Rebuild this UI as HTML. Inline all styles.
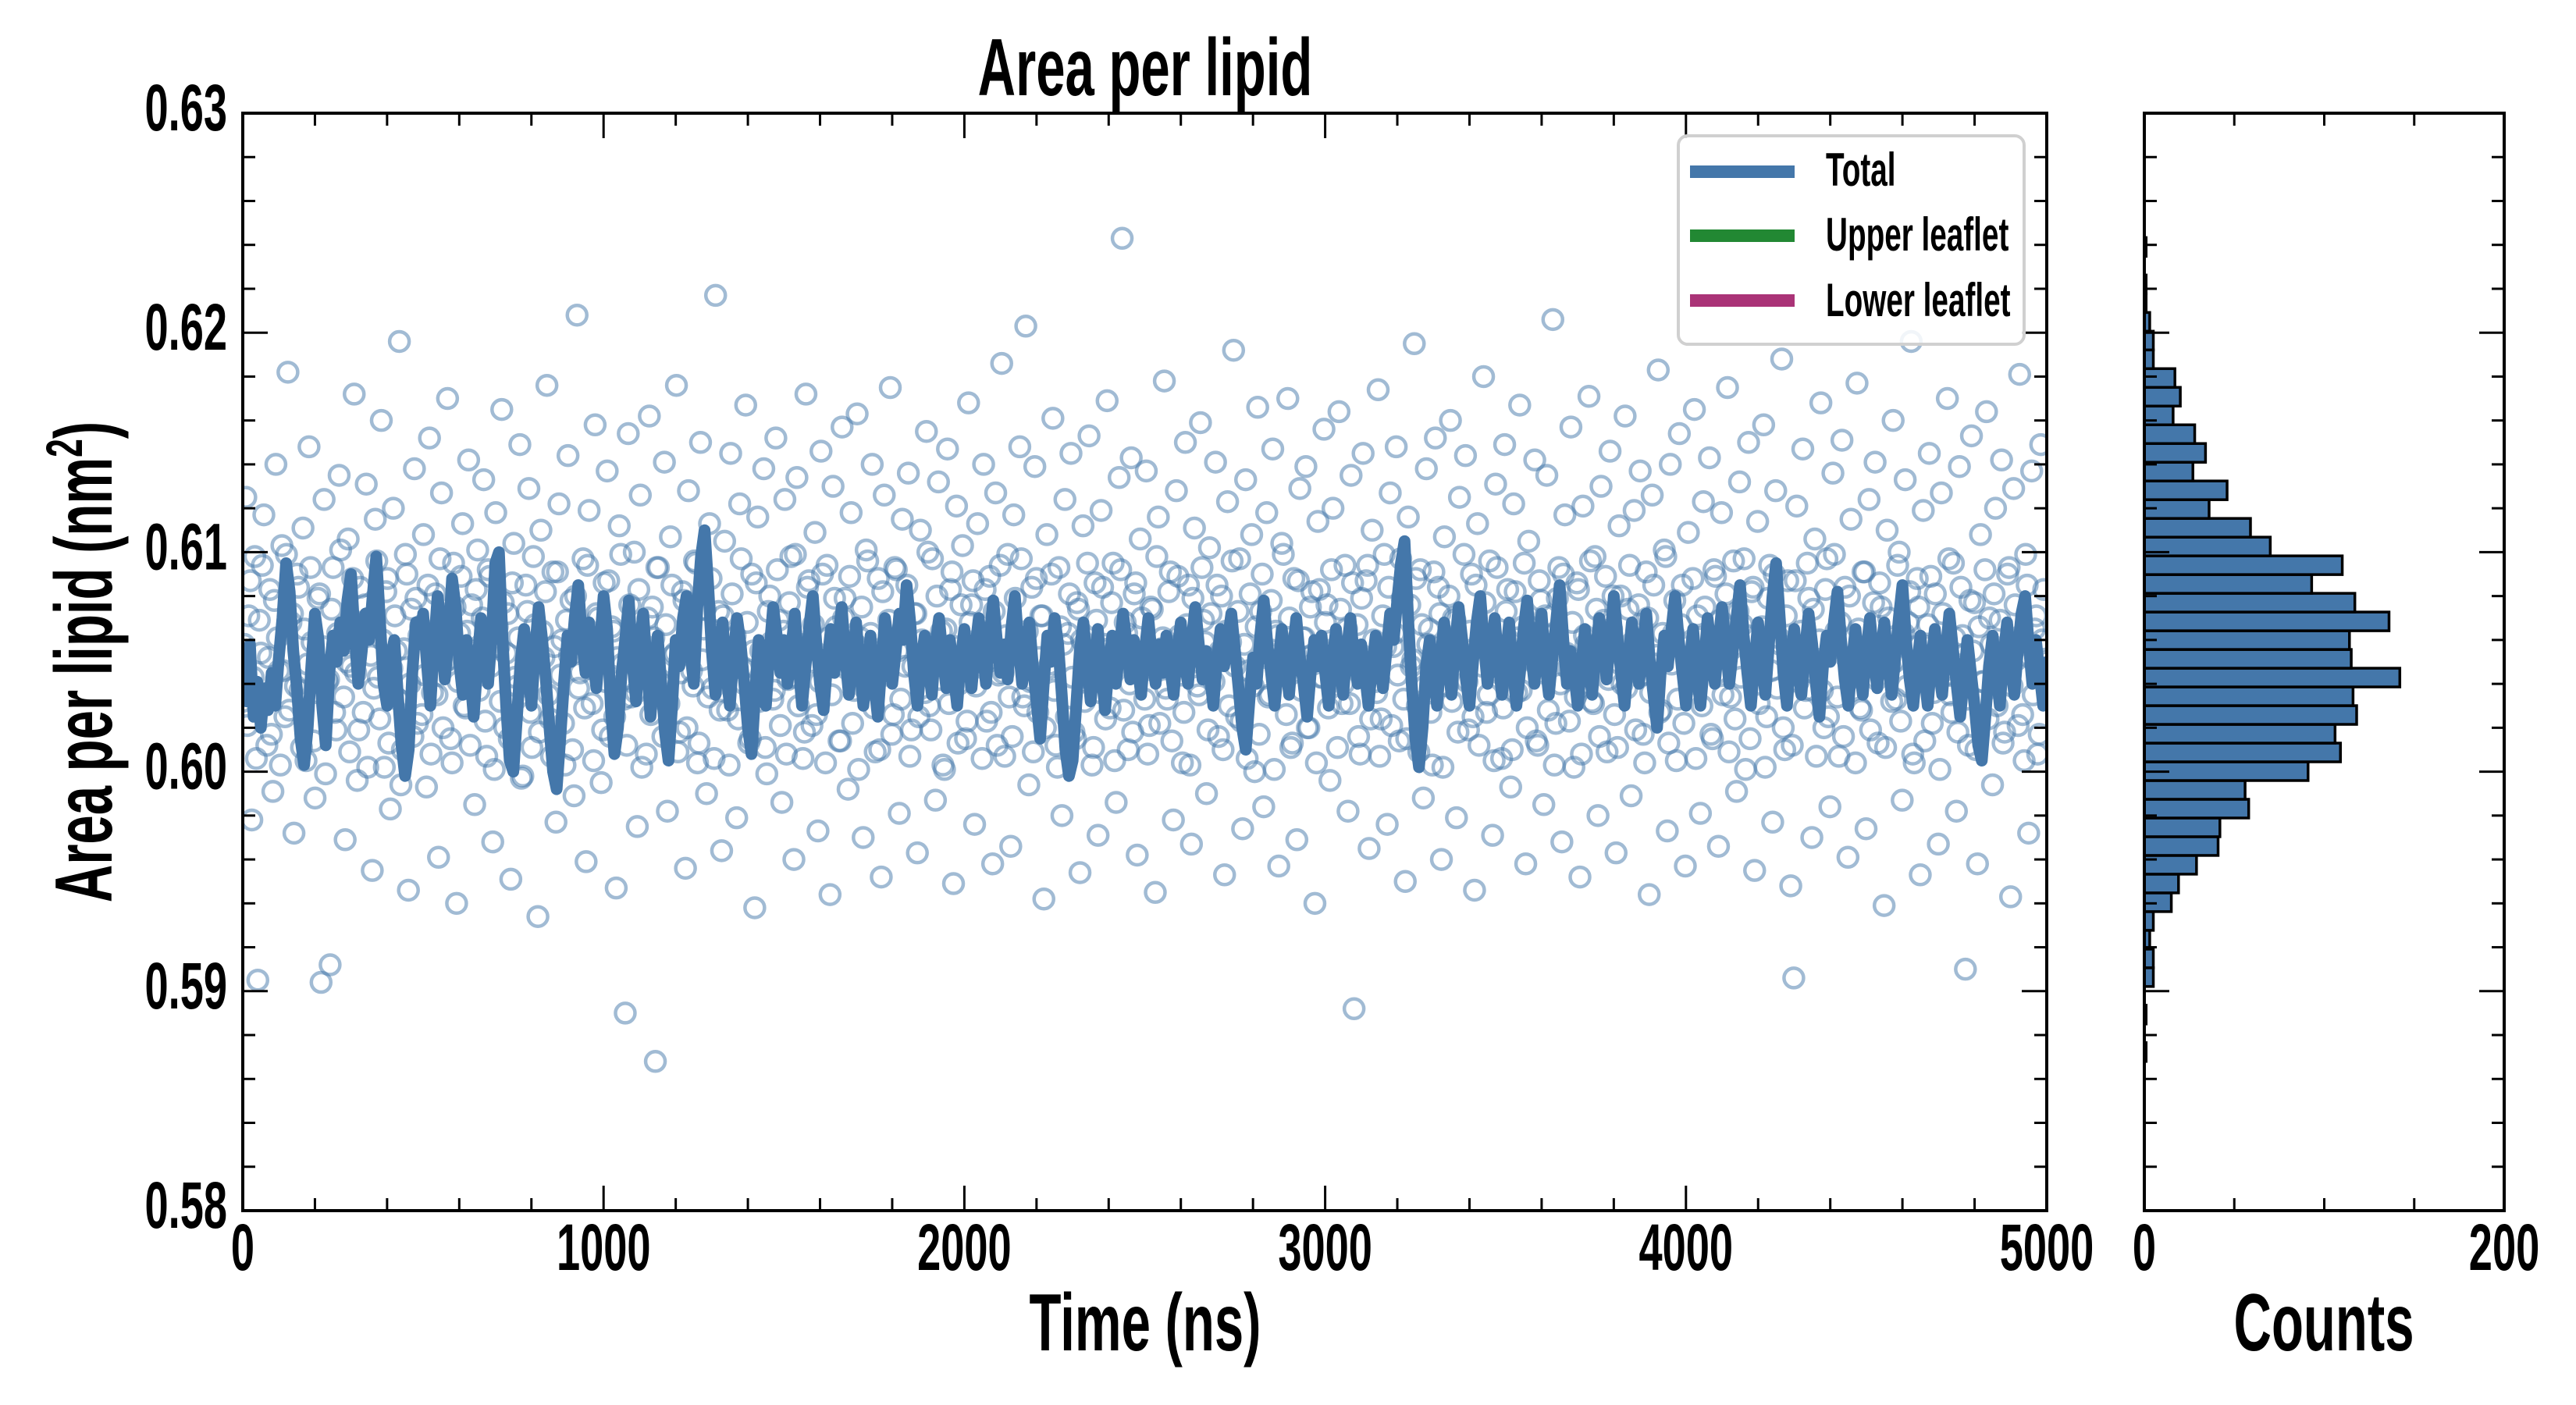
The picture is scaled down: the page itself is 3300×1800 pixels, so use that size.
<!DOCTYPE html>
<html><head><meta charset="utf-8"><title>Area per lipid</title>
<style>html,body{margin:0;padding:0;background:#fff}svg{display:block}text{font-family:"Liberation Sans",sans-serif;font-weight:bold;fill:#000}</style>
</head><body>
<svg id="chart" xmlns="http://www.w3.org/2000/svg" width="3300" height="1800" viewBox="0 0 3300 1800">
<defs><clipPath id="mainclip"><rect x="311" y="145" width="2311" height="1406"/></clipPath></defs>
<rect width="3300" height="1800" fill="#fff"/>
<g id="scatter" clip-path="url(#mainclip)"></g>
<g id="lineg" clip-path="url(#mainclip)"></g>
<g id="hist"></g>
<g id="ticks"></g>
<rect x="311" y="145" width="2311" height="1406" fill="none" stroke="#000" stroke-width="4"/>
<rect x="2747" y="145" width="461" height="1406" fill="none" stroke="#000" stroke-width="4"/>
<g id="legend">
<rect x="2150" y="174" width="443" height="267" rx="12" fill="#fff" fill-opacity="0.85" stroke="#d0d0d0" stroke-width="4"/>
<g><rect x="2165" y="212" width="134" height="16" fill="#4477aa"/><text transform="translate(2339,238) scale(0.645,1)" font-size="60">Total</text></g>
<g><rect x="2165" y="294" width="134" height="16" fill="#228833"/><text transform="translate(2339,321) scale(0.645,1)" font-size="60">Upper leaflet</text></g>
<g><rect x="2165" y="377" width="134" height="16" fill="#aa3377"/><text transform="translate(2339,405) scale(0.645,1)" font-size="60">Lower leaflet</text></g>
</g>
<text transform="translate(1467,122) scale(0.645,1)" font-size="104" text-anchor="middle">Area per lipid</text>
<text transform="translate(1467,1730) scale(0.645,1)" font-size="104" text-anchor="middle">Time (ns)</text>
<text transform="translate(2977,1730) scale(0.645,1)" font-size="104" text-anchor="middle">Counts</text>
<text transform="translate(143,848) rotate(-90) scale(0.645,1)" font-size="104" text-anchor="middle">Area per lipid (nm<tspan font-size="66" dy="-38">2</tspan><tspan dy="38">)</tspan></text>
<g id="labels"></g>
</svg>
<script>
const lineStep = 10;
const lineValues = [
.6050,.6032,.6058,.6025,.6041,.6020,.6038,.6028,.6045,.6030,.6052,.6070,.6095,.6082,.6055,.6038,.6015,.6003,.6020,.6048,
.6072,.6060,.6030,.6012,.6045,.6062,.6050,.6068,.6055,.6078,.6090,.6062,.6040,.6055,.6072,.6060,.6080,.6098,.6070,.6040,
.6030,.6052,.6060,.6035,.6012,.5998,.6010,.6045,.6068,.6058,
.6072,.6050,.6030,.6058,.6080,.6065,.6042,.6060,.6088,.6075,.6050,.6035,.6060,.6045,.6025,.6048,.6070,.6055,.6040,.6062,
.6095,.6100,.6060,.6030,.6005,.6000,.6025,.6050,.6065,.6048,.6030,.6055,.6075,.6060,.6042,.6020,.6000,.5992,.6015,.6040,
.6062,.6050,.6070,.6085,.6060,.6045,.6068,.6052,.6038,.6058,
.6080,.6065,.6030,.6008,.6020,.6045,.6060,.6078,.6050,.6032,.6058,.6072,.6048,.6025,.6045,.6062,.6040,.6018,.6005,.6030,
.6060,.6048,.6070,.6080,.6055,.6040,.6075,.6098,.6110,.6085,.6055,.6035,.6050,.6068,.6045,.6030,.6052,.6070,.6058,.6040,
.6020,.6008,.6035,.6060,.6048,.6030,.6055,.6075,.6062,.6045,
.6060,.6040,.6055,.6072,.6050,.6030,.6048,.6066,.6080,.6058,.6040,.6028,.6050,.6065,.6045,.6060,.6075,.6052,.6035,.6050,
.6068,.6048,.6030,.6045,.6062,.6040,.6025,.6048,.6070,.6058,.6040,.6055,.6072,.6060,.6085,.6068,.6045,.6030,.6050,.6062,
.6048,.6035,.6058,.6070,.6052,.6038,.6060,.6045,.6030,.6052,
.6065,.6050,.6038,.6056,.6070,.6055,.6040,.6062,.6078,.6060,.6045,.6058,.6042,.6065,.6080,.6058,.6040,.6052,.6068,.6048,
.6032,.6015,.6040,.6062,.6050,.6070,.6058,.6035,.6010,.5998,.6005,.6030,.6055,.6068,.6050,.6032,.6048,.6065,.6045,.6028,
.6048,.6062,.6040,.6055,.6072,.6058,.6042,.6060,.6048,.6035,
.6055,.6070,.6052,.6040,.6058,.6045,.6062,.6048,.6035,.6055,.6068,.6050,.6040,.6060,.6075,.6058,.6042,.6055,.6045,.6030,
.6050,.6065,.6048,.6060,.6072,.6055,.6038,.6020,.6010,.6032,.6052,.6040,.6062,.6078,.6058,.6045,.6030,.6048,.6065,.6050,
.6035,.6055,.6070,.6052,.6040,.6025,.6045,.6060,.6048,.6062,
.6045,.6030,.6050,.6065,.6048,.6035,.6055,.6070,.6052,.6040,.6058,.6045,.6030,.6048,.6062,.6050,.6038,.6055,.6072,.6060,
.6078,.6095,.6105,.6070,.6040,.6015,.6002,.6020,.6048,.6060,.6045,.6030,.6052,.6068,.6050,.6035,.6058,.6075,.6060,.6042,
.6030,.6050,.6068,.6080,.6058,.6040,.6055,.6070,.6050,.6035,
.6052,.6068,.6048,.6030,.6045,.6065,.6078,.6055,.6040,.6058,.6072,.6050,.6035,.6052,.6068,.6085,.6060,.6040,.6055,.6045,
.6030,.6048,.6065,.6050,.6035,.6055,.6070,.6058,.6042,.6060,.6080,.6062,.6045,.6030,.6050,.6068,.6055,.6040,.6058,.6072,
.6050,.6035,.6020,.6045,.6062,.6048,.6065,.6080,.6060,.6045,
.6030,.6050,.6065,.6045,.6030,.6048,.6070,.6055,.6040,.6058,.6075,.6058,.6040,.6055,.6070,.6085,.6062,.6045,.6030,.6050,
.6068,.6050,.6035,.6058,.6080,.6095,.6070,.6045,.6030,.6052,.6065,.6048,.6035,.6055,.6072,.6058,.6040,.6025,.6048,.6062,
.6050,.6068,.6082,.6060,.6042,.6030,.6050,.6065,.6048,.6035,
.6055,.6070,.6052,.6038,.6055,.6068,.6050,.6035,.6052,.6070,.6085,.6060,.6042,.6030,.6048,.6062,.6045,.6030,.6050,.6065,
.6048,.6035,.6055,.6072,.6056,.6040,.6025,.6042,.6060,.6045,.6030,.6012,.6005,.6025,.6048,.6062,.6045,.6030,.6052,.6068,
.6050,.6035,.6055,.6072,.6080,.6058,.6040,.6060,.6045,.6030,.6050];
const scatterTmax = 5000;
const scatterValuesA = [
.6032,.6125,.6071,.5978,.6098,.5905,.6054,.6117,.6012,.6083,.5991,.6140,.6046,.6103,.6025,.6182,.6068,.5972,.6090,.6037,
.6111,.6005,.6148,.6059,.5988,.6079,.5904,.6124,.6041,.5912,.6093,.6019,.6135,.6062,.5969,.6106,.6048,.6172,.5996,.6084,
.6027,.6131,.6070,.5955,.6115,.6043,.6160,.6002,.6088,.5983,.6120,.6055,.6196,.6010,.6099,.5946,.6074,.6138,.6022,.6066,
.6108,.5993,.6152,.6036,.6081,.5961,.6127,.6050,.6170,.6015,.6095,.5940,.6063,.6113,.6029,.6142,.6076,.5985,.6101,.6044,
.6133,.6007,.6089,.5968,.6118,.6057,.6165,.6020,.6072,.5951,.6104,.6039,.6149,.5998,.6085,.6129,.6011,.6067,.5934,.6110,
.6052,.6176,.6024,.6091,.5977,.6122,.6060,.6003,.6144,.6078,.5989,.6208,.6045,.6097,.5959,.6119,.6031,.6158,.6070,.5995,
.6086,.6137,.6016,.6064,.5947,.6112,.6049,.5890,.6154,.6034,.6100,.5975,.6126,.6058,.6008,.6162,.6075,.5868,.6093,.6040,
.6141,.5982,.6107,.6053,.6176,.6018,.6082,.5956,.6128,.6046,.6096,.6004,.6150,.6065,.5990,.6113,.6038,.6217,.6073,.5964,
.6105,.6028,.6145,.6061,.5979,.6122,.6047,.6167,.6013,.6090,.5938,.6116,.6055,.6138,.5999,.6080,.6033,.6152,.6069,.5986,
.6124,.6042,.6098,.5960,.6134,.6058,.6006,.6172,.6087,.6021,.6109,.5973,.6146,.6050,.6094,.5944,.6130,.6066,.6014,.6157,
.6079,.5992,.6118,.6037,.6163,.6061,.5970,.6101,.6045,.6140,.6009,.6088,.5952,.6126,.6057,.6175,.6026,.6092,.5981,.6115,
.6048,.6136,.6019,.6072,.5963,.6110,.6054,.6155,.6030,.6097,.5987,.6132,.6064,.6001,.6147,.6083,.5949,.6121,.6040,.6103,
.6015,.6168,.6076,.5976,.6113,.6052,.6140,.6023,.6089,.5958,.6127,.6044,.6186,.6007,.6099,.5966,.6117,.6060,.6148,.6034,
.6203,.5994,.6084,.6139,.6027,.6071,.5942,.6108,.6049,.6161,.6012,.6093,.5980,.6124,.6063,.6145,.6018,.6077,.5954,.6112,
.6043,.6153,.6003,.6086,.5971,.6119,.6058,.6169,.6029,.6095,.5986,.6134,.6243,.6068,.6010,.6143,.6081,.5962,.6106,.6047,
.6137,.6021,.6074,.5945,.6116,.6056,.6178,.6033,.6091,.5978,.6128,.6062,.6004,.6150,.6085,.5967,.6111,.6039,.6159,.6069,
.5990,.6102,.6051,.6141,.6016,.6080,.5953,.6123,.6059,.6192,.6025,.6097,.5974,.6133,.6046,.6108,.6000,.6166,.6073,.5984,
.6118,.6035,.6147,.6064,.5957,.6104,.6050,.6170,.6011,.6088,.5969,.6129,.6061,.6139,.6020,.6082,.5940,.6114,.6043,.6156,
.6076,.5996,.6120,.6053,.6164,.6031,.6094,.5982,.6135,.5892,.6067,.6008,.6145,.6087,.5965,.6110,.6041,.6174,.6024,.6099,
.5976,.6127,.6057,.6148,.6014,.6079,.5950,.6116,.6048,.6195,.6030,.6092,.5988,.6138,.6065,.6003,.6152,.6084,.5960,.6107,
.6039,.6160,.6070,.5979,.6125,.6054,.6144,.6019,.6090,.5946,.6113,.6060,.6180,.6027,.6096,.5971,.6131,.6045,.6006,.6149,
.6083,.5993,.6122,.6036,.6167,.6066,.5958,.6105,.6051,.6142,.6012,.6078,.5985,.6135,.6062,.6206,.6022,.6093,.5968,.6117,
.6047,.6157,.6002,.6086,.5952,.6121,.6058,.6171,.6032,.6098,.5980,.6130,.6069,.6009,.6146,.6080,.5963,.6112,.6040,.6162,
.6074,.5989,.6119,.6055,.6137,.6017,.6091,.5944,.6126,.6049,.6183,.6028,.6101,.5973,.6140,.6063,.6005,.6154,.6085,.5957,
.6109,.6042,.6165,.6071,.5981,.6123,.6052,.6143,.6015,.6089,.5966,.6118,.6059,.6175,.6034,.6096,.5991,.6132,.6067,.6001,
.6150,.6082,.5955,.6114,.6045,.6158,.6025,.6094,.5977,.6128,.6061,.6188,.6010,.6087,.5948,.5906,.6121,.6053,.6147,.6037,
.6079,.5970,.6106,.6050,.6168,.6020,.6097,.5984,.6136,.6064,.6007,.6151,.6084,.5961,.6115,.6043,.6177,.6029,.6091,.5974,
.6124,.6056,.6141,.6013,.6075,.5939,.6110,.6048,.6160,.6033,.6100,.5987,.6133,.6068,.6196,.6004,.6088,.5953,.6119,.6057,
.6145,.6022,.6081,.5967,.6127,.6046,.6170,.6035,.6095,.5982,.6139,.6062,.5910,.6012,.6153,.6077,.5958,.6108,.6041,.6164,
.6070,.5994,.6120,.6054,.6142,.6018,.6090,.5943,.6129,.6051,.6181,.6026,.6099,.5972,.6137,.6065,.6008,.6149,.6083,.6040];
const scatterValuesB = [
.6058,.6021,.6087,.6043,.6006,.6069,.6094,.6031,.6052,.6017,.6078,.6061,.6003,.6046,.6099,.6028,.6072,.6039,.6084,.6011,
.6065,.6049,.6093,.6014,.6036,.6081,.6057,.5999,.6042,.6074,.6027,.6063,.6101,.6034,.6050,.6009,.6088,.6045,.6019,.6067,
.6076,.6002,.6053,.6038,.6096,.6024,.6060,.6082,.6013,.6047,.6071,.6033,.5994,.6056,.6090,.6040,.6016,.6079,.6062,.6026,
.6044,.6085,.6008,.6059,.6035,.6097,.6020,.6068,.6051,.6004,.6075,.6041,.6089,.6030,.6064,.6012,.6055,.6083,.6037,.6070,
.6023,.6092,.6048,.6001,.6066,.6032,.6077,.6054,.6015,.6086,.6043,.6061,.5997,.6039,.6073,.6027,.6098,.6050,.6018,.6064,
.6082,.6035,.6007,.6057,.6091,.6044,.6022,.6069,.6053,.6010,.6080,.6038,.6063,.6029,.6094,.6047,.6005,.6072,.6056,.6019,
.6041,.6087,.6066,.6025,.6052,.6099,.6033,.6012,.6076,.6058,.6036,.6083,.6002,.6049,.6070,.6026,.6061,.6093,.6042,.6016,
.6067,.6031,.6085,.6054,.6009,.6045,.6078,.6020,.6060,.6039,.6095,.6013,.6051,.6074,.6034,.6088,.6006,.6057,.6028,.6071,
.6046,.6003,.6081,.6062,.6024,.6097,.6040,.6068,.6015,.6055,.6086,.6032,.6049,.6011,.6073,.6059,.6037,.6092,.6021,.6064,
.6008,.6077,.6043,.6099,.6030,.6056,.6018,.6084,.6050,.6067,.6026,.6041,.6090,.6004,.6061,.6035,.6079,.6053,.6014,.6070,
.6047,.6089,.6022,.6058,.6001,.6075,.6038,.6096,.6063,.6029,.6052,.6010,.6082,.6044,.6069,.6017,.6093,.6055,.6033,.6066,
.6085,.6007,.6048,.6072,.6025,.6060,.6036,.6100,.6019,.6054,.6080,.6042,.6003,.6065,.6031,.6091,.6057,.6013,.6076,.6046,
.6023,.6068,.6087,.6039,.6059,.6006,.6083,.6050,.6027,.6073,.6012,.6094,.6045,.6062,.6034,.6016,.6079,.6055,.6097,.6030,
.6064,.6041,.6009,.6088,.6052,.6071,.6020,.6047,.6090,.6037,.6002,.6066,.6058,.6025,.6081,.6043,.6015,.6074,.6060,.6032,
.6095,.6051,.6011,.6069,.6036,.6084,.6024,.6056,.6077,.6005,.6049,.6092,.6028,.6063,.6040,.6018,.6086,.6053,.6070,.6033,
.6008,.6075,.6046,.6098,.6022,.6061,.6038,.6082,.6014,.6057,.6089,.6044,.6027,.6067,.6003,.6079,.6050,.6035,.6093,.6059,
.6019,.6072,.6041,.6085,.6055,.6010,.6064,.6030,.6096,.6048,.6073,.6023,.6058,.6006,.6081,.6039,.6066,.6017,.6090,.6052,
.6034,.6078,.6001,.6062,.6045,.6099,.6026,.6070,.6013,.6054,.6087,.6037,.6061,.6020,.6075,.6049,.6004,.6083,.6043,.6068,
.6029,.6092,.6056,.6011,.6074,.6040,.6065,.6031,.6086,.6052,.6016,.6079,.6047,.6094,.6024,.6060,.6036,.6007,.6071,.6057,
.6084,.6021,.6063,.6044,.6097,.6033,.6015,.6076,.6051,.6088,.6009,.6067,.6039,.6058,.6027,.6091,.6046,.6072,.6002,.6055,
.6080,.6032,.6069,.6018,.6053,.6099,.6041,.6064,.6025,.6085,.6012,.6048,.6077,.6035,.6060,.6005,.6093,.6056,.6029,.6073,
.6043,.6010,.6082,.6061,.6037,.6095,.6020,.6066,.6050,.6014,.6087,.6045,.6071,.6028,.6058,.6003,.6079,.6040,.6090,.6054,
.6023,.6068,.6034,.6083,.6008,.6062,.6047,.6096,.6031,.6074,.6016,.6057,.6089,.6042,.6065,.6026,.6011,.6080,.6052,.6038,
.6094,.6059,.6019,.6076,.6044,.6004,.6070,.6036,.6085,.6053,.6027,.6063,.6098,.6013,.6049,.6078,.6033,.6067,.6022,.6057,
.6040,.6088,.6006,.6061,.6030,.6075,.6050,.6017,.6092,.6045,.6069,.6035,.6081,.6009,.6056,.6024,.6073,.6043,.6097,.6062,
.6015,.6084,.6051,.6031,.6066,.6002,.6079,.6046,.6090,.6038,.6058,.6020,.6071,.6054,.6012,.6087,.6041,.6064,.6029,.6095,
.6048,.6074,.6007,.6060,.6037,.6083,.6025,.6056,.6099,.6034,.6068,.6016,.6052,.6080,.6043,.6004,.6065,.6028,.6091,.6055,
.6019,.6077,.6042,.6086,.6059,.6011,.6070,.6032,.6050,.6094,.6023,.6063,.6039,.6082,.6008,.6057,.6075,.6046,.6014,.6067,
.6089,.6036,.6053,.6001,.6072,.6044,.6097,.6027,.6061,.6018,.6084,.6049,.6033,.6078,.6055,.6010,.6066,.6041,.6092,.6024,
.6058,.6081,.6030,.6069,.6013,.6047,.6093,.6039,.6076,.6021,.6062,.6005,.6085,.6052,.6035,.6071,.6017,.6060,.6044,.6050];
const histBinStart = 0.5868;
const histBinWidth = 0.000853;
const histCounts = [1,0,1,0,5,5,3,5,15,19,29,41,42,58,56,91,109,106,118,116,142,115,114,136,117,93,110,70,59,36,46,27,34,28,16,20,17,5,5,3,1,1,0,1];
const xTickValues = [0,1000,2000,3000,4000,5000];
const yTickValues = [0.58,0.59,0.60,0.61,0.62,0.63];
const yTickLabels = ['0.58','0.59','0.60','0.61','0.62','0.63'];
const histTickValues = [0,200];

const NS='http://www.w3.org/2000/svg';
const X0=311,X1=2622,Y0=145,Y1=1551,H0=2747,H1=3208;
const xScale=t=>X0+t/5000*(X1-X0);
const yScale=v=>Y0+(0.63-v)/0.05*(Y1-Y0);
const hScale=c=>H0+c/200*(H1-H0);
function mk(tag,attrs,parent){const e=document.createElementNS(NS,tag);for(const k in attrs)e.setAttribute(k,attrs[k]);parent.appendChild(e);return e;}

const sg=document.getElementById('scatter');
function drawScatter(vals,offset){
  const step=scatterTmax/(vals.length-1);
  vals.forEach((v,i)=>{
    const t=Math.min(scatterTmax,(i+offset)*step);
    const c=mk('circle',{cx:xScale(t),cy:yScale(v),r:12.5,fill:'none',stroke:'#4477aa','stroke-width':4.5,'stroke-opacity':0.5},sg);
    
    
  });
}
drawScatter(scatterValuesA,0);
drawScatter(scatterValuesB,0.5);

const lg=document.getElementById('lineg');
const pts=lineValues.map((v,i)=>xScale(i*lineStep).toFixed(1)+','+yScale(v).toFixed(1)).join(' ');
const pl=mk('polyline',{points:pts,fill:'none',stroke:'#4477aa','stroke-width':15,'stroke-linejoin':'round','stroke-linecap':'round'},lg);



const hg=document.getElementById('hist');
histCounts.forEach((c,i)=>{
  if(c<=0)return;
  const lo=histBinStart+i*histBinWidth, hi=lo+histBinWidth;
  const b=mk('rect',{x:H0,y:yScale(hi),width:hScale(c)-H0,height:yScale(lo)-yScale(hi),fill:'#4477aa',stroke:'#000','stroke-width':3.5},hg);
  
  
});

const tg=document.getElementById('ticks');
function tk(x1,y1,x2,y2){mk('line',{x1,y1,x2,y2,stroke:'#000','stroke-width':3},tg);}
for(let t=0;t<=5000;t+=200){const x=xScale(t);const L=(t%1000===0)?32:16;tk(x,Y1,x,Y1-L);tk(x,Y0,x,Y0+L);}
for(let k=0;k<=25;k++){const v=0.58+k*0.002;const y=yScale(v);const L=(k%5===0)?32:16;
  tk(X0,y,X0+L,y);tk(X1,y,X1-L,y);tk(H0,y,H0+L,y);tk(H1,y,H1-L,y);}
for(let c=0;c<=200;c+=50){const x=hScale(c);const L=(c%200===0)?32:16;tk(x,Y1,x,Y1-L);tk(x,Y0,x,Y0+L);}

const lab=document.getElementById('labels');
function txt(x,y,s,anchor){const e=mk('text',{transform:`translate(${x},${y}) scale(0.645,1)`,'font-size':84,'text-anchor':anchor},lab);e.textContent=s;return e;}
xTickValues.forEach(t=>{const e=txt(xScale(t),1627,String(t),'middle');});
yTickValues.forEach((v,i)=>{const e=txt(291,yScale(v)+22,yTickLabels[i],'end');});
histTickValues.forEach(c=>{const e=txt(hScale(c),1627,String(c),'middle');});
</script>
</body></html>
